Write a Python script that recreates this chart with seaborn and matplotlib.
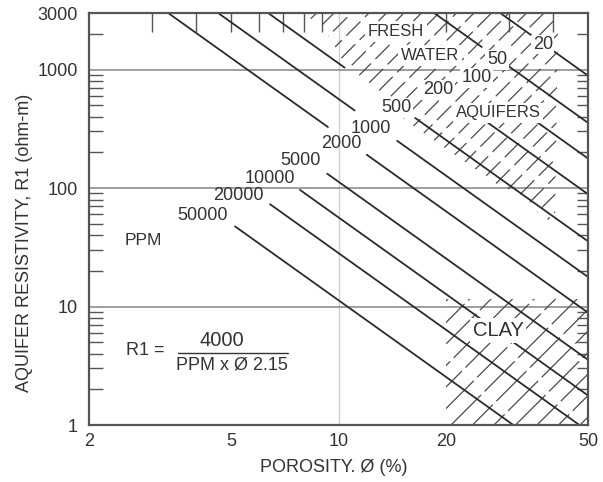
import numpy as np
import pandas as pd
import matplotlib
matplotlib.use("Agg")
import matplotlib.pyplot as plt
from matplotlib.patches import Polygon
from matplotlib.lines import Line2D
from matplotlib.ticker import FixedLocator, NullFormatter
import seaborn as sns

# Salinity curves: R1 = 4000 / (PPM x phi^2.15), phi as a fraction
COEF = 4000
EXPONENT = 2.15
ppm_values = [20, 50, 100, 200, 500, 1000, 2000, 5000, 10000, 20000, 50000]
ppm_labels = ["20", "50", "100", "200", "500", "1000", "2000",
              "5000", "10000", "20000", "50000"]

x_ticks = [2, 5, 10, 20, 50]
x_tick_labels = ["2", "5", "10", "20", "50"]
y_ticks = [1, 10, 100, 1000, 3000]
y_tick_labels = ["1", "10", "100", "1000", "3000"]
x_lim = (2, 50)
y_lim = (1, 3000)

# porosity spans (%) where each curve is drawn; gaps leave room for labels
curve_spans = {
    20: [(None, 35.0), (39.9, None)],
    50: [(None, 25.2), (29.8, None)],
    100: [(35.5, None)],
    200: [(26.2, None)],
    500: [(None, 10.4), (16.4, None)],
    1000: [(None, 11.1), (14.6, None)],
    2000: [(None, 9.34), (12.0, None)],
    5000: [(9.3, None)],
    10000: [(7.8, None)],
    20000: [(6.43, None)],
    50000: [(5.13, None)],
}
# label anchor (porosity %, resistivity)
label_anchor = {
    20: (37.4, 1627), 50: (27.8, 1213), 100: (24.4, 853), 200: (19.0, 675),
    500: (14.5, 475), 1000: (12.3, 321), 2000: (10.2, 239), 5000: (7.85, 172),
    10000: (6.43, 121), 20000: (5.23, 86.5), 50000: (4.17, 58.5),
}

# shaded zones (porosity %, resistivity)
fresh_zone = [(8.05, 3000), (9.46, 1866), (10.43, 1101), (13.5, 612),
              (15.35, 375), (40.4, 49.1), (41.2, 3000)]
clay_zone = [(20.0, 1), (20.0, 11.6), (50, 11.6), (50, 1)]


def resistivity(ppm, phi_pct):
    return COEF / (ppm * (np.asarray(phi_pct) / 100.0) ** EXPONENT)


def porosity_at(ppm, r):
    return 100.0 * (COEF / (ppm * r)) ** (1.0 / EXPONENT)


rows = []
seg_id = 0
for ppm in ppm_values:
    lo_clip = max(x_lim[0], porosity_at(ppm, y_lim[1]))
    hi_clip = min(x_lim[1], porosity_at(ppm, y_lim[0]))
    for start, end in curve_spans[ppm]:
        a = lo_clip if start is None else max(start, lo_clip)
        b = hi_clip if end is None else min(end, hi_clip)
        if b <= a:
            continue
        for phi in (a, b):
            rows.append({"seg": seg_id, "ppm": ppm, "phi": phi,
                         "R": float(resistivity(ppm, phi))})
        seg_id += 1
curves = pd.DataFrame(rows)

sns.set_theme(style="white")
plt.rcParams["font.family"] = ["Liberation Sans", "DejaVu Sans"]
TXT = "#333333"

fig = plt.figure(figsize=(6.03, 4.82), dpi=100)
ax = fig.add_axes([89 / 603, 57 / 482, 499 / 603, 412 / 482])
ax.set_xscale("log")
ax.set_yscale("log")
ax.set_xlim(*x_lim)
ax.set_ylim(*y_lim)

# grid: decade lines across, light line at 10 %
ax.set_yticks(y_ticks, y_tick_labels)
ax.set_xticks(x_ticks, x_tick_labels)
ax.yaxis.grid(True, which="major", color="#8e8e8e", lw=1.2)
ax.xaxis.grid(False)
ax.axvline(10, color="#d0d0d0", lw=1.0, zorder=0.5)

sns.lineplot(data=curves, x="phi", y="R", units="seg", estimator=None,
             color="#2b2b2b", lw=1.3, ax=ax, legend=False, sort=False)
ax.set_xlim(*x_lim)
ax.set_ylim(*y_lim)


def hatch(verts, spacing, lw, color, dash=None):
    poly = Polygon(verts, closed=True, transform=ax.transData,
                   facecolor="none", edgecolor="none")
    ax.add_patch(poly)
    bb = ax.get_window_extent()
    W, H = bb.width, bb.height
    for k, c in enumerate(np.arange(-H, W + spacing, spacing)):
        xs = [c / W, (c + H) / W]
        ys = [0, 1]
        ls = "-" if dash is None else (dash[2] * (k % 3), dash[:2])
        ln = Line2D(xs, ys, transform=ax.transAxes, color=color, lw=lw,
                    linestyle=ls, zorder=1.5)
        ln.set_clip_path(poly)
        ax.add_artist(ln)


hatch(fresh_zone, 17.5, 0.9, "#4a4a4a", dash=(16, 5, 6))
hatch(clay_zone, 21.5, 0.9, "#4a4a4a", dash=(34, 4, 11))

mask = dict(facecolor="white", edgecolor="none", pad=1.0)
in_fresh = {20, 50, 100, 200, 500}
for ppm, lab in zip(ppm_values, ppm_labels):
    px, py = label_anchor[ppm]
    ax.text(px, py, lab, fontsize=13, color=TXT, ha="center", va="center",
            bbox=mask if ppm in in_fresh else None, zorder=3)

for px, py, word, fs in [(14.5, 2099, "FRESH", 12), (18.0, 1313, "WATER", 12),
                         (27.98, 430, "AQUIFERS", 12), (28.0, 6.29, "CLAY", 14.5)]:
    ax.text(px, py, word, fontsize=fs, color=TXT, ha="center", va="center",
            bbox=dict(facecolor="white", edgecolor="none", pad=2.0), zorder=3)
ax.text(2.83, 35.9, "PPM", fontsize=12.5, color=TXT, ha="center", va="center")

# formula block
ax.text(0.112, 0.180, "R1 =", transform=ax.transAxes, fontsize=13,
        color=TXT, ha="center", va="center")
ax.text(0.2665, 0.206, "4000", transform=ax.transAxes, fontsize=14.5,
        color=TXT, ha="center", va="center")
ax.add_artist(Line2D([0.178, 0.399], [0.175, 0.175], transform=ax.transAxes,
                     color=TXT, lw=1.0))
ax.text(0.2866, 0.146, "PPM x Ø 2.15", transform=ax.transAxes, fontsize=13,
        color=TXT, ha="center", va="center")

# ticks
minor_x = [3, 4, 5, 6, 7, 8, 9, 20, 30, 40]
minor_y = [2, 3, 4, 5, 6, 7, 8, 9, 20, 30, 40, 50, 60, 70, 80, 90,
           200, 300, 400, 500, 600, 700, 800, 900, 2000]
ax.xaxis.remove_overlapping_locs = False
ax.xaxis.set_minor_locator(FixedLocator(minor_x))
ax.xaxis.set_minor_formatter(NullFormatter())
ax.yaxis.set_minor_locator(FixedLocator(minor_y))
ax.yaxis.set_minor_formatter(NullFormatter())
ax.tick_params(axis="x", which="major", bottom=True, top=False, length=0,
               pad=6, labelsize=13, labelcolor=TXT)
ax.tick_params(axis="y", which="major", left=True, right=False, length=0,
               pad=8, labelsize=13, labelcolor=TXT)
ax.tick_params(axis="x", which="minor", bottom=False, top=True,
               direction="in", length=14, width=1.0, color="#555555")
ax.tick_params(axis="y", which="minor", left=True, right=False,
               direction="in", length=10, width=1.0, color="#555555")

sec = ax.secondary_yaxis("right")
sec.yaxis.set_major_locator(FixedLocator([]))
sec.yaxis.set_minor_locator(FixedLocator(minor_y))
sec.yaxis.set_minor_formatter(NullFormatter())
sec.tick_params(axis="y", which="minor", direction="in", length=8,
                width=1.0, color="#555555")
sec.spines["right"].set_visible(False)

for sp in ax.spines.values():
    sp.set_color("#555555")
    sp.set_linewidth(1.6)

ax.set_xlabel("POROSITY. Ø (%)", fontsize=13, color=TXT)
ax.set_ylabel("AQUIFER RESISTIVITY, R1 (ohm-m)", fontsize=13, color=TXT)
ax.xaxis.set_label_coords(0.49, -0.0825)
ax.yaxis.set_label_coords(-0.112, 0.442)

fig.savefig("out.png", dpi=100, facecolor="white")
